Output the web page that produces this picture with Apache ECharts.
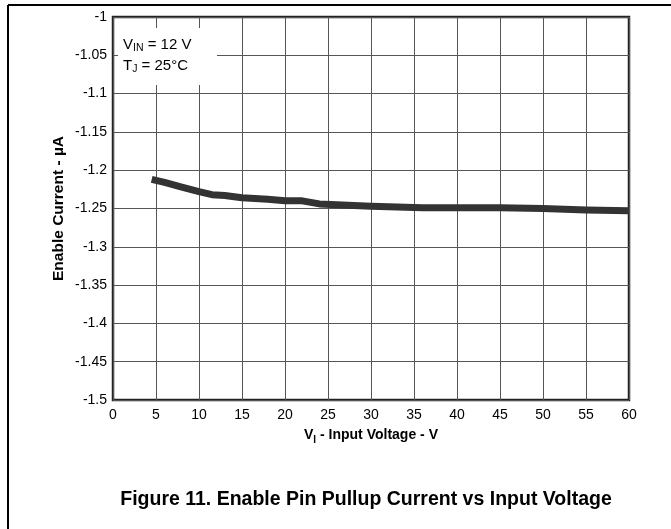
<!DOCTYPE html>
<html><head><meta charset="utf-8">
<script src="https://cdn.jsdelivr.net/npm/echarts@6/dist/echarts.min.js"></script>
<style>html,body{margin:0;padding:0;background:#fff}#c{width:671px;height:529px}</style>
</head><body><div id="c"></div>
<script>
const voltage = [4.5, 6, 8, 10, 11.5, 13, 15, 18, 20, 22, 24, 30, 36, 45, 50, 55, 60];
const current = [-1.212, -1.216, -1.222, -1.228, -1.232, -1.233, -1.236, -1.238, -1.240, -1.240, -1.244, -1.247, -1.249, -1.249, -1.250, -1.252, -1.253];
const xTicks = [0, 5, 10, 15, 20, 25, 30, 35, 40, 45, 50, 55, 60];
const yTicks = [-1.5, -1.45, -1.4, -1.35, -1.3, -1.25, -1.2, -1.15, -1.1, -1.05, -1];

const FONT = '"Liberation Sans", Arial, sans-serif';
const chart = echarts.init(document.getElementById('c'), null, {renderer: 'canvas'});
const gridL = 113, gridT = 17, gridW = 516, gridH = 383;
chart.setOption({
  animation: false,
  backgroundColor: '#fff',
  grid: {left: gridL, top: gridT, width: gridW, height: gridH, show: true, borderColor: '#222', borderWidth: 2.5},
  xAxis: {
    type: 'value', min: 0, max: 60, interval: 5,
    axisLine: {show: false}, axisTick: {show: false},
    splitLine: {show: true, lineStyle: {color: '#555', width: 1}},
    axisLabel: {color: '#000', fontFamily: FONT, fontSize: 14, margin: 8,
      formatter: v => xTicks.includes(v) ? String(v) : ''},
    name: '{b|V}{s|I}{b| - Input Voltage - V}', nameLocation: 'middle', nameGap: 26,
    nameTextStyle: {rich: {
      b: {fontFamily: FONT, fontSize: 14, fontWeight: 'bold', color: '#000'},
      s: {fontFamily: FONT, fontSize: 10, fontWeight: 'bold', color: '#000', padding: [9, 0, 0, 0]}
    }}
  },
  yAxis: {
    type: 'value', min: -1.5, max: -1, interval: 0.05,
    axisLine: {show: false}, axisTick: {show: false},
    splitLine: {show: true, lineStyle: {color: '#555', width: 1}},
    axisLabel: {color: '#000', fontFamily: FONT, fontSize: 14, margin: 6,
      formatter: v => { const t = yTicks.find(y => Math.abs(y - v) < 1e-6); return t === undefined ? '' : String(t); }},
    name: 'Enable Current - µA', nameLocation: 'middle', nameGap: 46, nameRotate: 90,
    nameMoveOverlap: false,
    nameTextStyle: {fontFamily: FONT, fontSize: 15.5, fontWeight: 'bold', color: '#000'}
  },
  series: [{
    type: 'line', data: voltage.map((v, i) => [v, current[i]]),
    showSymbol: false, smooth: false,
    lineStyle: {color: '#333', width: 7, cap: 'butt', join: 'round'}, z: 5
  }],
  graphic: [
    {type: 'line', shape: {x1: 8, y1: 5, x2: 671, y2: 5}, style: {stroke: '#000', lineWidth: 2}},
    {type: 'line', shape: {x1: 8, y1: 5, x2: 8, y2: 529}, style: {stroke: '#000', lineWidth: 2}},
    {type: 'rect', shape: {x: 118, y: 28, width: 99, height: 57}, style: {fill: '#fff'}, z: 10},
    {type: 'text', left: 123, top: 35, z: 11, style: {
      text: '{n|V}{s|IN}{n| = 12 V}\n{n|T}{s|J}{n| = 25°C}',
      rich: {
        n: {fontFamily: FONT, fontSize: 15, fill: '#000', lineHeight: 21},
        s: {fontFamily: FONT, fontSize: 10.5, fill: '#000', padding: [8, 0, 0, 0], lineHeight: 21}
      }}},
    {type: 'text', x: 366, y: 500, style: {
      text: 'Figure 11. Enable Pin Pullup Current vs Input Voltage',
      align: 'center', verticalAlign: 'middle',
      fontFamily: FONT, fontSize: 19.5, fontWeight: 'bold', fill: '#000'}}
  ]
});
</script></body></html>
